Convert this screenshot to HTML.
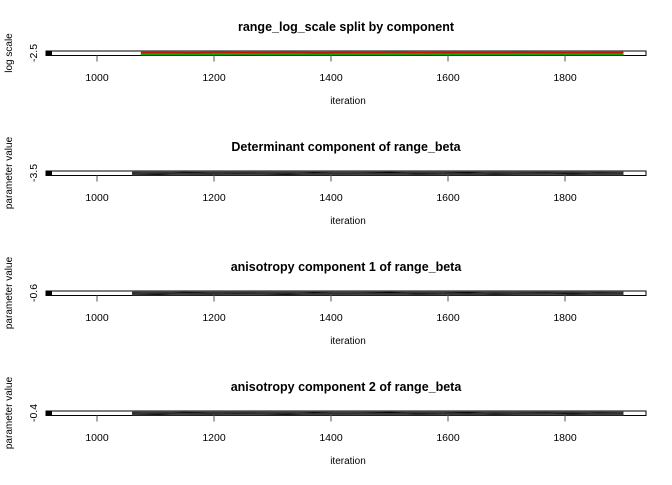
<!DOCTYPE html>
<html><head><meta charset="utf-8"><style>
body{margin:0;background:#fff;}
svg text{font-family:"Liberation Sans",sans-serif;}
</style></head><body>
<svg id="c" width="672" height="480" xmlns="http://www.w3.org/2000/svg"></svg>
<script>
const titles=["range_log_scale split by component","Determinant component of range_beta","anisotropy component 1 of range_beta","anisotropy component 2 of range_beta"];
const ylabels=["log scale","parameter value","parameter value","parameter value"];
const yticks=["-2.5","-3.5","-0.6","-0.4"];
const xticks=[1000,1200,1400,1600,1800];
const starts=[1075,1060,1060,1060];
const endIter=1900;
const seriesRed=[0.7,0.8,0.6,0.9,0.7,0.75,0.85,0.6,0.8,0.7,0.9,0.65,0.8,0.7,0.75,0.85,0.7,0.6,0.8,0.75];
const seriesGreen=[0.2,0.3,0.15,0.25,0.35,0.2,0.3,0.1,0.25,0.3,0.2,0.35,0.15,0.25,0.3,0.2,0.25,0.3,0.2,0.25];
const seriesA=[0.5,0.3,0.7,0.4,0.6,0.5,0.3,0.6,0.45,0.55,0.7,0.4,0.5,0.6,0.35,0.5,0.65,0.4,0.55,0.5];
const seriesB=[0.4,0.6,0.5,0.3,0.7,0.45,0.6,0.35,0.55,0.5,0.4,0.65,0.5,0.3,0.6,0.45,0.55,0.7,0.4,0.5];
const svg=document.getElementById('c');
const NS='http://www.w3.org/2000/svg';
function mk(t,a,p){const e=document.createElementNS(NS,t);for(const k in a)e.setAttribute(k,a[k]);(p||svg).appendChild(e);return e;}
const x=v=>97+(v-1000)*117/200;
const boxL=46,boxR=646;
for(let i=0;i<4;i++){
  const off=i*120, top=51+off, bot=55.5+off;
  const g=mk('g',{});
  
  
  const t=mk('text',{x:346,y:31+off,'text-anchor':'middle','font-size':12.5,'font-weight':'bold'},g);t.textContent=titles[i];
  
  const yl=mk('text',{transform:`translate(12,${53+off}) rotate(-90)`,'text-anchor':'middle','font-size':10},g);yl.textContent=ylabels[i];
  
  const yt=mk('text',{transform:`translate(37,${53+off}) rotate(-90)`,'text-anchor':'middle','font-size':10.5},g);yt.textContent=yticks[i];
  
  mk('rect',{x:boxL,y:top,width:boxR-boxL,height:bot-top,fill:'#fff',stroke:'#000','stroke-width':1},g);
  mk('rect',{x:boxL,y:top,width:6,height:bot-top,fill:'#000'},g);
  const sy=v=>bot-0.5-v*(bot-top-1);
  const series=i===0?[[seriesRed,'#cc1100'],[seriesGreen,'#00b000']]:[[seriesA,'#000'],[seriesB,'#333']];
  mk('rect',{x:x(starts[i]),y:top,width:x(endIter)-x(starts[i]),height:bot-top,fill:i===0?'#556b20':'#444'},g);
  for(const [s,col] of series){
    const n=s.length;
    const pts=s.map((v,j)=>x(starts[i]+j*(endIter-starts[i])/(n-1))+','+sy(v)).join(' ');
    const pl=mk('polyline',{points:pts,fill:'none',stroke:col,'stroke-width':1.5},g);
    
  }
  for(const xv of xticks){
    mk('line',{x1:x(xv),x2:x(xv),y1:bot,y2:bot+6,stroke:'#555'},g);
    const tl=mk('text',{x:x(xv),y:81+off,'text-anchor':'middle','font-size':10.5},g);tl.textContent=xv;
    
  }
  const xl=mk('text',{x:348,y:104+off,'text-anchor':'middle','font-size':10},g);xl.textContent='iteration';
  
}
</script>
</body></html>
